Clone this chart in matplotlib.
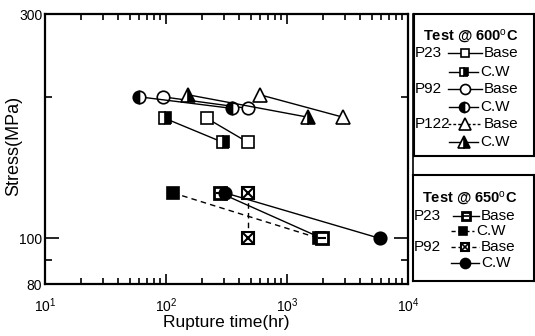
import matplotlib
matplotlib.use('Agg')
import matplotlib.pyplot as plt
from matplotlib.lines import Line2D

plt.rcParams['font.family'] = ['Liberation Sans', 'DejaVu Sans']
plt.rcParams['mathtext.fontset'] = 'custom'
plt.rcParams['mathtext.rm'] = 'Liberation Sans'
plt.rcParams['mathtext.it'] = 'Liberation Sans'

# rupture time (hr) and stress (MPa), test @ 600C
t_p23_base_600 = [218, 476]
s_p23_base_600 = [180, 160]
t_p23_cw_600 = [98, 296]
s_p23_cw_600 = [180, 160]
t_p92_base_600 = [94, 476]
s_p92_base_600 = [200, 189]
t_p92_cw_600 = [60, 351]
s_p92_cw_600 = [200, 189]
t_p122_base_600 = [598, 2904]
s_p122_base_600 = [202, 181]
t_p122_cw_600 = [152, 1493]
s_p122_cw_600 = [202, 181]

# test @ 650C
t_p23_base_650 = [279, 1950]
s_p23_base_650 = [125, 100]
t_p23_cw_650 = [114, 1850]
s_p23_cw_650 = [125, 100]
t_p92_base_650 = [476, 476]
s_p92_base_650 = [125, 100]
t_p92_cw_650 = [307, 5870]
s_p92_cw_650 = [125, 100]

x_ticks = [10, 100, 1000, 10000]
x_labels = ['$10^{1}$', '$10^{2}$', '$10^{3}$', '$10^{4}$']
y_ticks = [80, 100, 300]
y_labels = ['80', '100', '300']
y_minor = [90, 200]

W, H = 535, 336


def fbox(x0, y0, x1, y1):
    # pixel box -> figure fraction [left, bottom, width, height]
    return [x0 / W, 1 - y1 / H, (x1 - x0) / W, (y1 - y0) / H]


fig = plt.figure(figsize=(W / 100, H / 100), dpi=100)
ax = fig.add_axes(fbox(45, 14, 408, 284))

# marker styles
sq_open = dict(marker='s', ms=8, mfc='white', mec='black', mew=1.2)
sq_half = dict(marker='s', ms=8, mfc='black', mfcalt='white', fillstyle='right', mec='black', mew=1.2)
ci_open = dict(marker='o', ms=9, mfc='white', mec='black', mew=1.2)
ci_half = dict(marker='o', ms=9, mfc='black', mfcalt='white', fillstyle='left', mec='black', mew=1.2)
tr_open = dict(marker='^', ms=10, mfc='white', mec='black', mew=1.2)
tr_half = dict(marker='^', ms=10, mfc='black', mfcalt='white', fillstyle='right', mec='black', mew=1.2)
sq_full = dict(marker='s', ms=8, mfc='black', mec='black', mew=1.2)
sq_base = dict(marker='s', ms=8, mfc='white', mec='black', mew=2.0)
sq_x = dict(marker='s', ms=8, mfc='white', mec='black', mew=1.5)
ci_full = dict(marker='o', ms=9, mfc='black', mec='black', mew=1.2)

lw = 1.0
dash = (0, (4, 3))

ax.plot(t_p23_base_600, s_p23_base_600, '-', color='black', lw=lw, **sq_open)
ax.plot(t_p23_cw_600, s_p23_cw_600, '-', color='black', lw=lw, **sq_half)
ax.plot(t_p92_base_600, s_p92_base_600, '-', color='black', lw=lw, **ci_open)
ax.plot(t_p92_cw_600, s_p92_cw_600, '-', color='black', lw=lw, **ci_half)
ax.plot(t_p122_base_600, s_p122_base_600, '-', color='black', lw=lw, **tr_open)
ax.plot(t_p122_cw_600, s_p122_cw_600, '-', color='black', lw=lw, **tr_half)

ax.plot(t_p23_cw_650, s_p23_cw_650, linestyle=dash, color='black', lw=lw, **sq_full)
ax.plot(t_p92_base_650, s_p92_base_650, linestyle=dash, color='black', lw=lw, **sq_x)
ax.plot(t_p92_base_650, s_p92_base_650, 'x', color='black', ms=7, mew=1.5)
ax.plot(t_p23_base_650, s_p23_base_650, '-', color='black', lw=lw, **sq_base)
ax.plot(t_p23_base_650, s_p23_base_650, '_', color='black', ms=6, mew=1.5)
ax.plot(t_p92_cw_650, s_p92_cw_650, '-', color='black', lw=lw, **ci_full)

ax.set_xscale('log')
ax.set_yscale('log')
ax.set_xlim(10, 10000)
ax.set_ylim(80, 300)
ax.set_xticks(x_ticks)
ax.set_xticklabels(x_labels, fontsize=10)
ax.set_yticks(y_ticks)
ax.set_yticklabels(y_labels, fontsize=10)
ax.set_yticks(y_minor, minor=True)
ax.yaxis.set_minor_formatter(plt.NullFormatter())
ax.tick_params(axis='both', which='both', direction='in', top=True, right=True, width=1.2)
ax.tick_params(axis='x', which='major', length=7, pad=9)
ax.tick_params(axis='x', which='minor', length=4)
ax.tick_params(axis='y', which='major', length=10, pad=2)
ax.tick_params(axis='y', which='minor', length=5)
for sp in ax.spines.values():
    sp.set_linewidth(1.6)
ax.set_xlabel('Rupture time(hr)', fontsize=12.5, labelpad=0)
ax.set_ylabel('Stress(MPa)', fontsize=13)
ax.yaxis.set_label_coords(-0.062, 0.51)


def legend_box(box, title, title_y, rows):
    lax = fig.add_axes(fbox(*box))
    w = box[2] - box[0]
    h = box[3] - box[1]
    lax.set_xlim(0, w)
    lax.set_ylim(h, 0)
    lax.set_xticks([])
    lax.set_yticks([])
    lax.patch.set_alpha(0)
    for sp in lax.spines.values():
        sp.set_linewidth(1.5)
    lax.text(9, title_y, title, fontsize=10.5, fontweight='bold', va='center', ha='left')
    for grp, y, x0, x1, ls, mk, extra, lab in rows:
        if grp:
            lax.text(0.5, y, grp, fontsize=11, va='center', ha='left')
        xm = (x0 + x1) / 2
        lax.plot([x0, x1], [y, y], linestyle=ls, color='black', lw=1.0)
        lax.plot([xm], [y], linestyle='none', **{k: v for k, v in mk.items()
                                               if k != 'ms'}, ms=mk['ms'] * 0.8)
        if extra:
            lax.plot([xm], [y], extra, color='black', ms=5, mew=1.2)
        lax.text(x1 + 2, y, lab, fontsize=11, va='center', ha='left')
    return lax


legend_box((414, 14, 534, 156), 'Test @ 600$^{\\mathrm{o}}$C', 22, [
    ('P23', 39, 34, 68, '-', sq_open, None, 'Base'),
    ('', 58, 35, 64, '-', sq_half, None, 'C.W'),
    ('P92', 75, 34, 68, '-', ci_open, None, 'Base'),
    ('', 93, 35, 64, '-', ci_half, None, 'C.W'),
    ('P122', 110, 34, 68, (0, (2, 1.5)), tr_open, None, 'Base'),
    ('', 128, 35, 64, '-', tr_half, None, 'C.W'),
])

legend_box((413, 175, 534, 281), 'Test @ 650$^{\\mathrm{o}}$C', 23, [
    ('P23', 41, 40, 66, '-', sq_base, '_', 'Base'),
    ('', 56, 38, 61, (0, (3, 2)), sq_full, None, 'C.W'),
    ('P92', 72, 38, 66, (0, (3, 2)), sq_x, 'x', 'Base'),
    ('', 88, 38, 66, '-', ci_full, None, 'C.W'),
])

fig.add_artist(Line2D([413 / W, 413 / W], [1 - 14 / H, 1 - 281 / H],
                      transform=fig.transFigure, color='black', lw=1.2))

fig.savefig('out.png', dpi=100)
